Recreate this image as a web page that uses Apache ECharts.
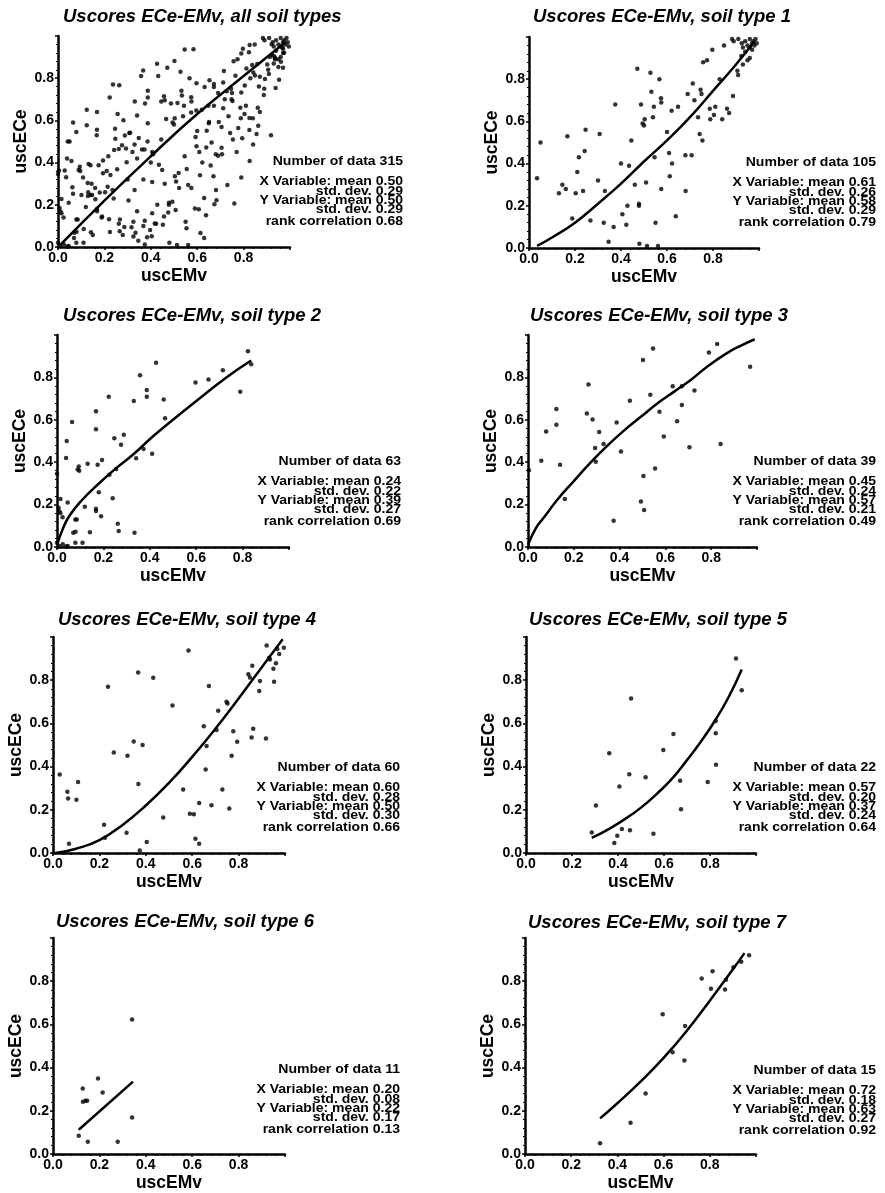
<!DOCTYPE html>
<html><head><meta charset="utf-8">
<script src="https://cdn.jsdelivr.net/npm/echarts@6/dist/echarts.min.js"></script>
<style>html,body{margin:0;padding:0;background:#fff}#c{width:885px;height:1193px}</style>
</head><body><div id="c"></div>
<script>
// ---------------- DATA ----------------
const titles = [
  'Uscores ECe-EMv, all soil types',
  'Uscores ECe-EMv, soil type 1',
  'Uscores ECe-EMv, soil type 2',
  'Uscores ECe-EMv, soil type 3',
  'Uscores ECe-EMv, soil type 4',
  'Uscores ECe-EMv, soil type 5',
  'Uscores ECe-EMv, soil type 6',
  'Uscores ECe-EMv, soil type 7'
];
const xName = 'uscEMv';
const yName = 'uscECe';
const tickLabels = ['0.0', '0.2', '0.4', '0.6', '0.8'];

const statN     = ['315', '105', '63', '39', '60', '22', '11', '15'];
const statXMean = ['0.50', '0.61', '0.24', '0.45', '0.60', '0.57', '0.20', '0.72'];
const statXStd  = ['0.29', '0.26', '0.22', '0.24', '0.28', '0.20', '0.08', '0.18'];
const statYMean = ['0.50', '0.58', '0.39', '0.57', '0.50', '0.37', '0.22', '0.63'];
const statYStd  = ['0.29', '0.29', '0.27', '0.21', '0.30', '0.24', '0.17', '0.27'];
const statRank  = ['0.68', '0.79', '0.69', '0.49', '0.66', '0.64', '0.13', '0.92'];

const soil1 = [[0.035,0.33],[0.05,0.50],[0.13,0.26],[0.145,0.30],[0.16,0.28],[0.167,0.53],[0.188,0.14],[0.203,0.26],[0.21,0.36],[0.217,0.43],[0.235,0.27],[0.242,0.46],[0.246,0.56],[0.267,0.13],[0.30,0.32],[0.307,0.54],[0.325,0.12],[0.33,0.27],[0.346,0.03],[0.368,0.10],[0.375,0.68],[0.40,0.40],[0.406,0.16],[0.423,0.11],[0.428,0.20],[0.435,0.39],[0.445,0.51],[0.46,0.30],[0.471,0.85],[0.478,0.21],[0.478,0.20],[0.48,0.02],[0.487,0.68],[0.494,0.59],[0.50,0.58],[0.503,0.61],[0.509,0.31],[0.513,0.01],[0.528,0.83],[0.532,0.74],[0.539,0.62],[0.543,0.67],[0.546,0.43],[0.55,0.12],[0.561,0.01],[0.567,0.80],[0.574,0.71],[0.575,0.69],[0.575,0.28],[0.60,0.55],[0.609,0.45],[0.612,0.34],[0.62,0.65],[0.622,0.40],[0.638,0.15],[0.648,0.67],[0.681,0.27],[0.68,0.44],[0.69,0.73],[0.707,0.44],[0.712,0.78],[0.719,0.70],[0.746,0.75],[0.75,0.73],[0.735,0.62],[0.742,0.54],[0.754,0.51],[0.757,0.88],[0.774,0.89],[0.786,0.66],[0.788,0.61],[0.797,0.94],[0.81,0.67],[0.804,0.63],[0.829,0.80],[0.84,0.61],[0.848,0.96],[0.861,0.66],[0.87,0.64],[0.883,0.99],[0.89,0.98],[0.887,0.72],[0.906,0.84],[0.909,0.82],[0.923,0.91],[0.93,0.87],[0.94,0.93],[0.95,0.96],[0.96,0.95],[0.97,0.97],[0.975,0.98],[0.98,0.96],[0.985,0.99],[0.99,0.97],[0.93,0.95],[0.95,0.89],[0.96,0.90],[0.94,0.98],[0.91,0.99],[0.925,0.97],[0.96,0.99],[0.97,0.94]];
const soil2 = [[0,0.346],[0.007,0.185],[0.01,0.169],[0.015,0.16],[0.015,0.227],[0,0.02],[0.01,0.005],[0.025,0.013],[0.04,0.002],[0.046,0.005],[0.024,0.14],[0.039,0.42],[0.042,0.50],[0.046,0.21],[0.065,0.59],[0.07,0.067],[0.08,0.072],[0.079,0.13],[0.085,0.13],[0.079,0.02],[0.089,0.365],[0.094,0.38],[0.096,0.36],[0.11,0.02],[0.12,0.19],[0.132,0.393],[0.142,0.07],[0.168,0.556],[0.168,0.64],[0.168,0.18],[0.168,0.17],[0.175,0.388],[0.18,0.258],[0.19,0.145],[0.194,0.41],[0.223,0.709],[0.226,0.341],[0.24,0.23],[0.247,0.513],[0.255,0.368],[0.262,0.11],[0.266,0.075],[0.276,0.482],[0.288,0.529],[0.331,0.689],[0.341,0.419],[0.334,0.067],[0.358,0.81],[0.373,0.462],[0.387,0.74],[0.387,0.709],[0.41,0.44],[0.427,0.869],[0.46,0.696],[0.466,0.607],[0.597,0.776],[0.653,0.79],[0.715,0.834],[0.79,0.732],[0.823,0.923],[0.837,0.862]];
const soil3 = [[0.004,0.362],[0.058,0.407],[0.079,0.545],[0.124,0.651],[0.124,0.577],[0.14,0.388],[0.161,0.226],[0.257,0.63],[0.264,0.766],[0.282,0.601],[0.293,0.467],[0.296,0.402],[0.311,0.542],[0.33,0.486],[0.387,0.587],[0.374,0.124],[0.406,0.45],[0.445,0.69],[0.493,0.215],[0.504,0.335],[0.507,0.175],[0.502,0.882],[0.546,0.936],[0.534,0.718],[0.555,0.37],[0.574,0.638],[0.593,0.521],[0.632,0.758],[0.651,0.593],[0.672,0.758],[0.672,0.67],[0.705,0.47],[0.727,0.738],[0.79,0.917],[0.826,0.957],[0.841,0.486],[0.97,0.85]];
const soil4 = [[0.029,0.363],[0.062,0.283],[0.065,0.252],[0.069,0.043],[0.101,0.247],[0.108,0.329],[0.22,0.131],[0.224,0.071],[0.237,0.77],[0.262,0.465],[0.317,0.094],[0.321,0.45],[0.348,0.516],[0.367,0.836],[0.368,0.32],[0.374,0.012],[0.386,0.50],[0.404,0.051],[0.432,0.811],[0.475,0.164],[0.515,0.683],[0.561,0.294],[0.584,0.937],[0.59,0.182],[0.607,0.179],[0.614,0.066],[0.63,0.043],[0.63,0.232],[0.65,0.587],[0.658,0.386],[0.662,0.495],[0.672,0.773],[0.683,0.221],[0.712,0.658],[0.705,0.569],[0.73,0.294],[0.748,0.70],[0.752,0.692],[0.76,0.206],[0.77,0.45],[0.777,0.564],[0.794,0.515],[0.842,0.827],[0.849,0.813],[0.856,0.535],[0.859,0.867],[0.863,0.575],[0.889,0.75],[0.892,0.796],[0.918,0.53],[0.921,0.961],[0.932,0.904],[0.935,0.896],[0.95,0.853],[0.953,0.793],[0.961,0.878],[0.967,0.944],[0.975,0.921],[0.995,0.95]];
const soil5 = [[0.286,0.095],[0.304,0.22],[0.362,0.462],[0.384,0.046],[0.397,0.08],[0.406,0.308],[0.417,0.111],[0.449,0.365],[0.452,0.105],[0.457,0.715],[0.52,0.351],[0.554,0.089],[0.597,0.477],[0.641,0.551],[0.67,0.335],[0.674,0.203],[0.79,0.329],[0.825,0.611],[0.825,0.554],[0.826,0.408],[0.913,0.90],[0.938,0.754]];
const soil6 = [[0.111,0.085],[0.128,0.303],[0.129,0.242],[0.14,0.246],[0.147,0.246],[0.15,0.057],[0.194,0.349],[0.214,0.285],[0.279,0.057],[0.341,0.623],[0.341,0.169]];
const soil7 = [[0.325,0.05],[0.457,0.145],[0.522,0.28],[0.596,0.647],[0.639,0.471],[0.693,0.593],[0.69,0.433],[0.765,0.812],[0.812,0.846],[0.805,0.765],[0.866,0.761],[0.87,0.807],[0.902,0.865],[0.936,0.89],[0.97,0.92]];
// all soil types = union of the seven subsets
const soilAll = [].concat(soil1, soil2, soil3, soil4, soil5, soil6, soil7);

const fitAll = [[0.01,0.01],[0.2,0.22],[0.4,0.43],[0.6,0.63],[0.8,0.81],[0.98,0.97]];
const fit1 = [[0.035,0.01],[0.1,0.05],[0.2,0.12],[0.3,0.21],[0.4,0.305],[0.5,0.41],[0.6,0.51],[0.7,0.62],[0.8,0.745],[0.9,0.87],[0.98,0.98]];
const fit2 = [[0,0.01],[0.024,0.083],[0.053,0.146],[0.11,0.224],[0.183,0.302],[0.255,0.372],[0.327,0.435],[0.413,0.521],[0.5,0.6],[0.614,0.70],[0.73,0.80],[0.837,0.88]];
const fit3 = [[0,0.01],[0.034,0.088],[0.07,0.14],[0.128,0.223],[0.2,0.311],[0.274,0.399],[0.347,0.478],[0.42,0.55],[0.493,0.614],[0.566,0.678],[0.64,0.734],[0.712,0.789],[0.785,0.853],[0.873,0.917],[0.93,0.95],[0.99,0.98]];
const fit4 = [[0.01,0.0],[0.1,0.02],[0.2,0.06],[0.3,0.13],[0.4,0.22],[0.5,0.325],[0.6,0.445],[0.7,0.575],[0.8,0.715],[0.9,0.86],[0.99,0.99]];
const fit5 = [[0.286,0.07],[0.35,0.105],[0.42,0.15],[0.5,0.21],[0.57,0.275],[0.64,0.35],[0.7,0.43],[0.76,0.515],[0.82,0.61],[0.88,0.72],[0.938,0.85]];
const fit6 = [[0.111,0.112],[0.345,0.335]];
const fit7 = [[0.325,0.165],[0.4,0.235],[0.5,0.335],[0.6,0.445],[0.7,0.57],[0.8,0.71],[0.9,0.855],[0.95,0.93]];

const panelPoints = [soilAll, soil1, soil2, soil3, soil4, soil5, soil6, soil7];
const panelFits = [fitAll, fit1, fit2, fit3, fit4, fit5, fit6, fit7];

// ---------------- LAYOUT ----------------
const grids = [
  {left: 58, top: 36, width: 232, height: 211},
  {left: 529, top: 37, width: 230, height: 211},
  {left: 57, top: 335, width: 232, height: 212},
  {left: 528, top: 335, width: 229, height: 212},
  {left: 53, top: 637, width: 232, height: 216},
  {left: 526, top: 637, width: 230, height: 216},
  {left: 53, top: 938, width: 232, height: 217},
  {left: 525, top: 938, width: 231, height: 218}
];
const titleTops = [7, 7, 306, 306, 610, 610, 912, 913];
const titleLefts = [63, 533, 63, 530, 58, 529, 56, 528];
const statRight = [403, 876, 401, 876, 400, 876, 400, 876];
const statOffsets = [-85.5, -65.5, -55.5, -46, -37, -25];

const FONT = '"Liberation Sans", Arial, Helvetica, sans-serif';
const option = {
  backgroundColor: '#fff',
  animation: false,
  title: [], grid: [], xAxis: [], yAxis: [], series: [], graphic: []
};

function axisCommon() {
  return {
    type: 'value', min: 0, max: 1, interval: 0.2,
    splitLine: {show: false},
    axisLine: {show: true, onZero: false, lineStyle: {color: '#000', width: 2.5}},
    axisTick: {show: true, length: 3, lineStyle: {color: '#000', width: 1.5}},
    minorTick: {show: true, splitNumber: 5, length: 2, lineStyle: {color: '#000', width: 1.2}},
    axisLabel: {
      color: '#000', fontFamily: FONT, fontSize: 14, fontWeight: 'bold', margin: 4,
      formatter: v => tickLabels[Math.round(v / 0.2)] || ''
    },
    nameLocation: 'middle',
    nameTextStyle: {color: '#000', fontFamily: FONT, fontSize: 17.5, fontWeight: 'bold'}
  };
}

for (let i = 0; i < 8; i++) {
  const g = grids[i];
  option.grid.push(Object.assign({containLabel: false}, g));
  option.title.push({
    text: titles[i], left: titleLefts[i], top: titleTops[i], padding: 0,
    textStyle: {fontFamily: FONT, fontSize: 18.5, fontWeight: 'bold', fontStyle: 'italic', color: '#000'}
  });
  option.xAxis.push(Object.assign(axisCommon(), {gridIndex: i, name: xName, nameGap: 20}));
  option.yAxis.push(Object.assign(axisCommon(), {gridIndex: i, name: yName, nameGap: 28}));
  option.series.push({
    type: 'scatter', xAxisIndex: i, yAxisIndex: i, data: panelPoints[i],
    symbol: 'circle', symbolSize: 4.5, clip: false,
    itemStyle: {color: '#000'}, silent: true
  });
  option.series.push({
    type: 'line', xAxisIndex: i, yAxisIndex: i, data: panelFits[i],
    smooth: true, showSymbol: false, symbol: 'none', clip: false,
    lineStyle: {color: '#000', width: 2.5}, silent: true
  });
  const bottom = g.top + g.height;
  const lines = [
    'Number of data ' + statN[i],
    'X Variable: mean ' + statXMean[i],
    'std. dev. ' + statXStd[i],
    'Y Variable: mean ' + statYMean[i],
    'std. dev. ' + statYStd[i],
    'rank correlation ' + statRank[i]
  ];
  lines.forEach((t, k) => {
    option.graphic.push({
      type: 'text', x: statRight[i], y: bottom + statOffsets[k], scaleX: 1.17, silent: true,
      style: {text: t, align: 'right', verticalAlign: 'middle', textAlign: 'right', textVerticalAlign: 'middle',
              font: 'bold 12px ' + FONT, fill: '#000'}
    });
  });
}

const chart = echarts.init(document.getElementById('c'), null, {renderer: 'canvas', width: 885, height: 1193});
chart.setOption(option);
</script>
</body></html>
